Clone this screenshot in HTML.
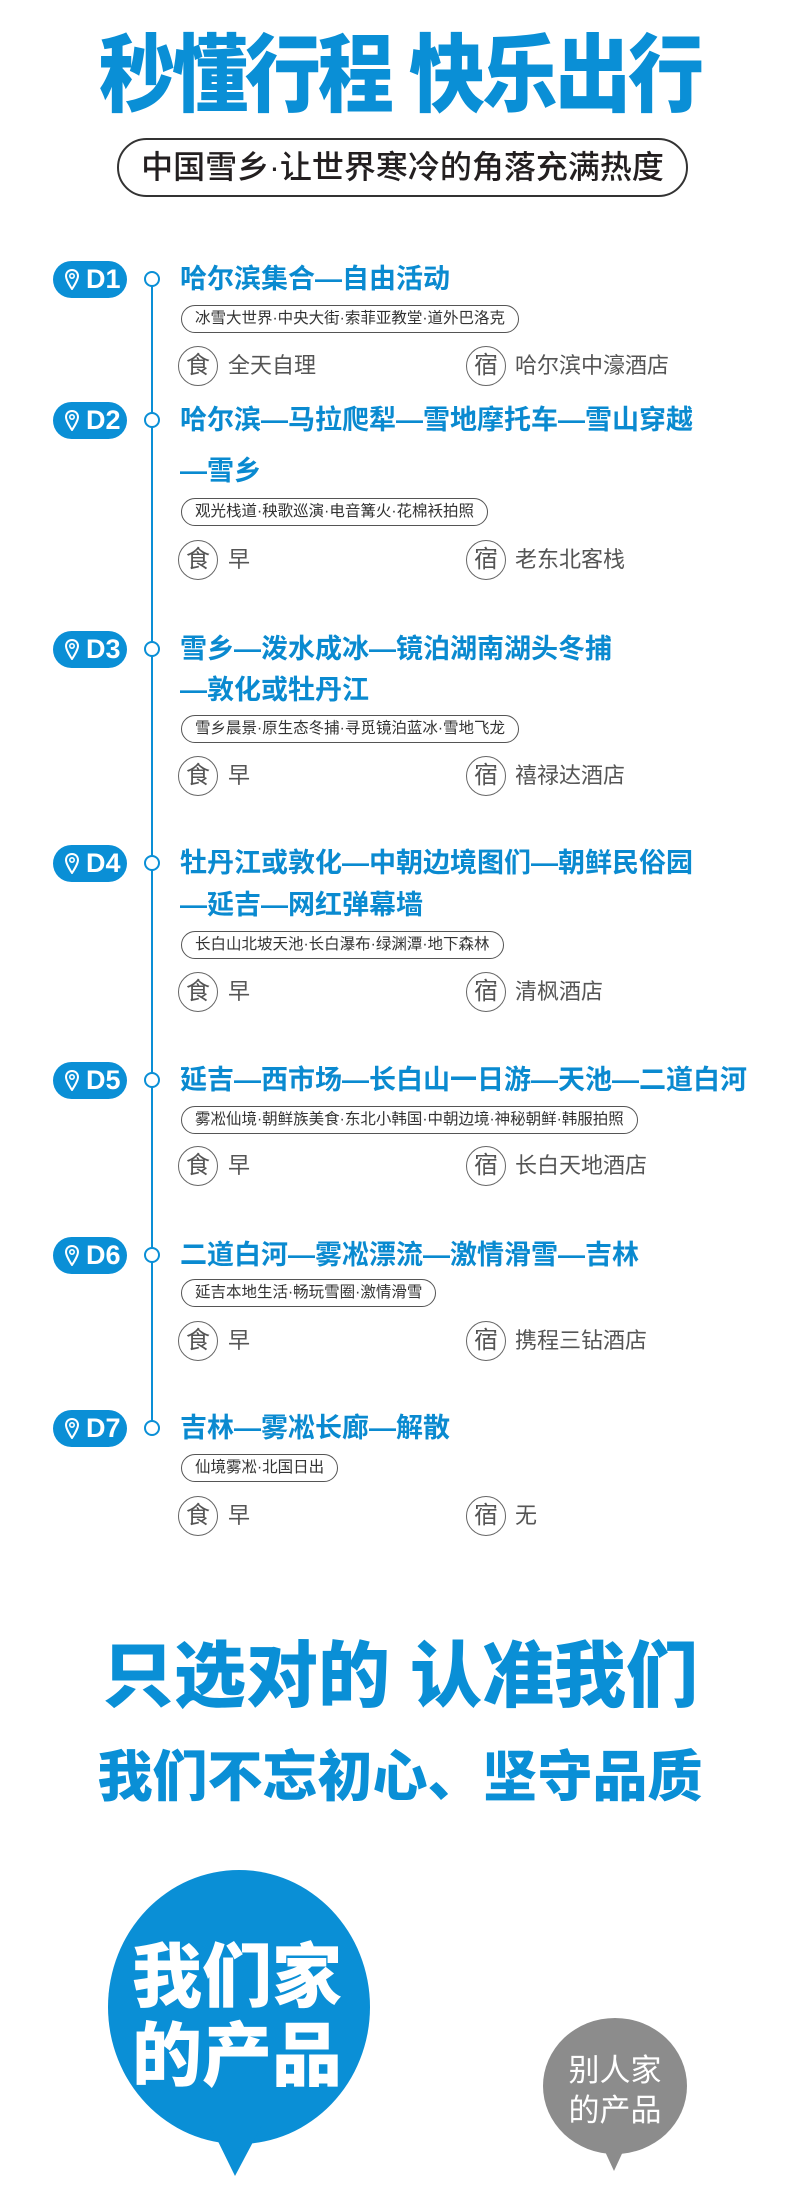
<!DOCTYPE html>
<html><head><meta charset="utf-8">
<style>
*{margin:0;padding:0;box-sizing:border-box}
body{width:800px;height:2205px;background:#fff;position:relative;overflow:hidden;font-family:"Liberation Sans","Noto Sans CJK SC",sans-serif}
.a{position:absolute}
.title{left:0;width:800px;text-align:center;top:32px;font-size:76px;line-height:90px;font-weight:900;color:#0a8fd6;letter-spacing:-3px;transform:scaleY(1.12)}
.pill{left:117px;top:138px;width:571px;height:59px;border:2px solid #333;border-radius:30px;text-align:center;font-size:32px;line-height:55px;font-weight:500;color:#231f20}
.line{left:151px;top:279px;width:2px;height:1150px;background:#0a8fd6}
.node{left:144px;width:16px;height:16px;border:2px solid #0a8fd6;border-radius:50%;background:#fff}
.badge{left:53px;width:74px;height:37px;border-radius:19px;background:#0a8fd6;color:#fff;font-weight:700;font-size:27px;line-height:37px;padding-left:33px}
.badge svg{position:absolute;left:12px;top:8px}
.t{left:180px;font-size:27px;line-height:32px;font-weight:700;color:#0a8ad0;white-space:nowrap}
.tag{left:181px;height:28px;border:1.5px solid #555;border-radius:14px;padding:0 13px;font-size:15.5px;line-height:25px;color:#333;white-space:nowrap}
.ic{width:40px;height:40px;border:1.5px solid #666;border-radius:50%;text-align:center;font-size:24px;line-height:37px;color:#555}
.f{font-size:22px;line-height:40px;color:#555;white-space:nowrap}
.b1{left:0;width:800px;text-align:center;font-weight:900;color:#0a8fd6;white-space:nowrap}
</style></head><body>
<div class="a title">秒懂行程&nbsp;快乐出行</div>
<div class="a pill">中国雪乡·让世界寒冷的角落充满热度</div>
<div class="a line"></div>

<div class="a badge" style="top:261px"><svg width="14" height="21" viewBox="0 0 14 21"><path d="M7 1C3.5 1 1 3.6 1 7c0 4 6 13 6 13s6-9 6-13C13 3.6 10.5 1 7 1z" fill="none" stroke="#fff" stroke-width="2"/><circle cx="7" cy="7" r="2.2" fill="none" stroke="#fff" stroke-width="1.6"/></svg>D1</div>
<div class="a node" style="top:271px"></div>
<div class="a t" style="top:263px">哈尔滨集合—自由活动</div>
<div class="a tag" style="top:305px">冰雪大世界·中央大街·索菲亚教堂·道外巴洛克</div>
<div class="a ic" style="left:178px;top:346px">食</div><div class="a f" style="left:228px;top:346px">全天自理</div>
<div class="a ic" style="left:466px;top:346px">宿</div><div class="a f" style="left:515px;top:346px">哈尔滨中濠酒店</div>

<div class="a badge" style="top:402px"><svg width="14" height="21" viewBox="0 0 14 21"><path d="M7 1C3.5 1 1 3.6 1 7c0 4 6 13 6 13s6-9 6-13C13 3.6 10.5 1 7 1z" fill="none" stroke="#fff" stroke-width="2"/><circle cx="7" cy="7" r="2.2" fill="none" stroke="#fff" stroke-width="1.6"/></svg>D2</div>
<div class="a node" style="top:412px"></div>
<div class="a t" style="top:404px">哈尔滨—马拉爬犁—雪地摩托车—雪山穿越</div>
<div class="a t" style="top:455px">—雪乡</div>
<div class="a tag" style="top:498px">观光栈道·秧歌巡演·电音篝火·花棉袄拍照</div>
<div class="a ic" style="left:178px;top:540px">食</div><div class="a f" style="left:228px;top:540px">早</div>
<div class="a ic" style="left:466px;top:540px">宿</div><div class="a f" style="left:515px;top:540px">老东北客栈</div>

<div class="a badge" style="top:631px"><svg width="14" height="21" viewBox="0 0 14 21"><path d="M7 1C3.5 1 1 3.6 1 7c0 4 6 13 6 13s6-9 6-13C13 3.6 10.5 1 7 1z" fill="none" stroke="#fff" stroke-width="2"/><circle cx="7" cy="7" r="2.2" fill="none" stroke="#fff" stroke-width="1.6"/></svg>D3</div>
<div class="a node" style="top:641px"></div>
<div class="a t" style="top:633px">雪乡—泼水成冰—镜泊湖南湖头冬捕</div>
<div class="a t" style="top:674px">—敦化或牡丹江</div>
<div class="a tag" style="top:715px">雪乡晨景·原生态冬捕·寻觅镜泊蓝冰·雪地飞龙</div>
<div class="a ic" style="left:178px;top:756px">食</div><div class="a f" style="left:228px;top:756px">早</div>
<div class="a ic" style="left:466px;top:756px">宿</div><div class="a f" style="left:515px;top:756px">禧禄达酒店</div>

<div class="a badge" style="top:845px"><svg width="14" height="21" viewBox="0 0 14 21"><path d="M7 1C3.5 1 1 3.6 1 7c0 4 6 13 6 13s6-9 6-13C13 3.6 10.5 1 7 1z" fill="none" stroke="#fff" stroke-width="2"/><circle cx="7" cy="7" r="2.2" fill="none" stroke="#fff" stroke-width="1.6"/></svg>D4</div>
<div class="a node" style="top:855px"></div>
<div class="a t" style="top:847px">牡丹江或敦化—中朝边境图们—朝鲜民俗园</div>
<div class="a t" style="top:889px">—延吉—网红弹幕墙</div>
<div class="a tag" style="top:931px">长白山北坡天池·长白瀑布·绿渊潭·地下森林</div>
<div class="a ic" style="left:178px;top:972px">食</div><div class="a f" style="left:228px;top:972px">早</div>
<div class="a ic" style="left:466px;top:972px">宿</div><div class="a f" style="left:515px;top:972px">清枫酒店</div>

<div class="a badge" style="top:1062px"><svg width="14" height="21" viewBox="0 0 14 21"><path d="M7 1C3.5 1 1 3.6 1 7c0 4 6 13 6 13s6-9 6-13C13 3.6 10.5 1 7 1z" fill="none" stroke="#fff" stroke-width="2"/><circle cx="7" cy="7" r="2.2" fill="none" stroke="#fff" stroke-width="1.6"/></svg>D5</div>
<div class="a node" style="top:1072px"></div>
<div class="a t" style="top:1064px">延吉—西市场—长白山一日游—天池—二道白河</div>
<div class="a tag" style="top:1106px">雾凇仙境·朝鲜族美食·东北小韩国·中朝边境·神秘朝鲜·韩服拍照</div>
<div class="a ic" style="left:178px;top:1146px">食</div><div class="a f" style="left:228px;top:1146px">早</div>
<div class="a ic" style="left:466px;top:1146px">宿</div><div class="a f" style="left:515px;top:1146px">长白天地酒店</div>

<div class="a badge" style="top:1237px"><svg width="14" height="21" viewBox="0 0 14 21"><path d="M7 1C3.5 1 1 3.6 1 7c0 4 6 13 6 13s6-9 6-13C13 3.6 10.5 1 7 1z" fill="none" stroke="#fff" stroke-width="2"/><circle cx="7" cy="7" r="2.2" fill="none" stroke="#fff" stroke-width="1.6"/></svg>D6</div>
<div class="a node" style="top:1247px"></div>
<div class="a t" style="top:1239px">二道白河—雾凇漂流—激情滑雪—吉林</div>
<div class="a tag" style="top:1279px">延吉本地生活·畅玩雪圈·激情滑雪</div>
<div class="a ic" style="left:178px;top:1321px">食</div><div class="a f" style="left:228px;top:1321px">早</div>
<div class="a ic" style="left:466px;top:1321px">宿</div><div class="a f" style="left:515px;top:1321px">携程三钻酒店</div>

<div class="a badge" style="top:1410px"><svg width="14" height="21" viewBox="0 0 14 21"><path d="M7 1C3.5 1 1 3.6 1 7c0 4 6 13 6 13s6-9 6-13C13 3.6 10.5 1 7 1z" fill="none" stroke="#fff" stroke-width="2"/><circle cx="7" cy="7" r="2.2" fill="none" stroke="#fff" stroke-width="1.6"/></svg>D7</div>
<div class="a node" style="top:1420px"></div>
<div class="a t" style="top:1412px">吉林—雾凇长廊—解散</div>
<div class="a tag" style="top:1454px">仙境雾凇·北国日出</div>
<div class="a ic" style="left:178px;top:1496px">食</div><div class="a f" style="left:228px;top:1496px">早</div>
<div class="a ic" style="left:466px;top:1496px">宿</div><div class="a f" style="left:515px;top:1496px">无</div>

<div class="a b1" style="top:1632px;font-size:72px;line-height:90px">只选对的&nbsp;认准我们</div>
<div class="a b1" style="top:1744px;font-size:55px;line-height:66px">我们不忘初心、坚守品质</div>

<svg class="a" style="left:0;top:0" width="800" height="2205" viewBox="0 0 800 2205">
<ellipse cx="239" cy="2007" rx="131" ry="137" fill="#0a8fd6"/>
<polygon points="210,2125 262,2125 235,2176" fill="#0a8fd6"/>
<text x="237" y="2001" text-anchor="middle" fill="#fff" font-size="70" font-weight="900" font-family="Liberation Sans, Noto Sans CJK SC, sans-serif">我们家</text>
<text x="237" y="2080" text-anchor="middle" fill="#fff" font-size="70" font-weight="900" font-family="Liberation Sans, Noto Sans CJK SC, sans-serif">的产品</text>
<ellipse cx="615" cy="2086" rx="72" ry="68" fill="#8c8c8c"/>
<polygon points="602,2145 626,2145 614,2171" fill="#8c8c8c"/>
<text x="615" y="2081" text-anchor="middle" fill="#fff" font-size="31" font-family="Liberation Sans, Noto Sans CJK SC, sans-serif">别人家</text>
<text x="615" y="2121" text-anchor="middle" fill="#fff" font-size="31" font-family="Liberation Sans, Noto Sans CJK SC, sans-serif">的产品</text>
</svg>
</body></html>
